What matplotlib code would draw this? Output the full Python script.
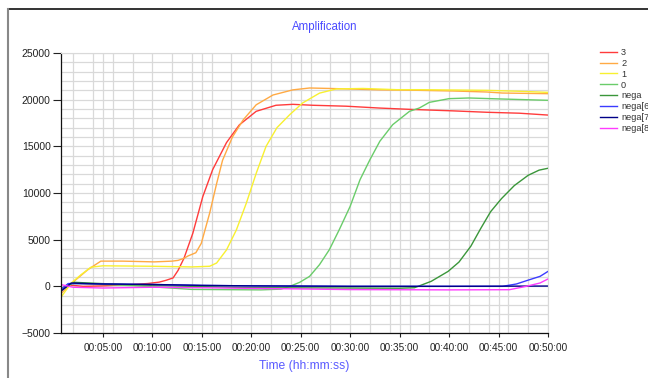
import matplotlib
matplotlib.use("Agg")
import matplotlib.pyplot as plt
from matplotlib.ticker import MultipleLocator, FuncFormatter
from matplotlib.lines import Line2D

plt.rcParams['font.family'] = ['Liberation Sans', 'DejaVu Sans']

# ---- data (time in minutes, fluorescence) ----
t_s3 = [0.8, 1.5, 3, 5, 8, 9.5, 10.7, 11.4, 12.1, 12.6, 13.2, 14.1, 15.1, 16.1, 17.5, 18.8,
        20.5, 22.5, 24.2, 26.2, 29.6, 33.0, 36.3, 40.4, 43.8, 47.1, 50]
y_s3 = [-250, 150, 0, 50, 200, 300, 450, 650, 900, 1700, 3000, 5700, 9600, 12500, 15400, 17300,
        18750, 19400, 19500, 19400, 19300, 19100, 18950, 18800, 18650, 18550, 18350]

t_s2 = [0.85, 2.1, 3.5, 4.8, 7, 10.2, 12.0, 12.6, 13.2, 13.6, 14.4, 14.95, 15.8, 16.5, 17.1,
        18.1, 19.2, 20.5, 22.2, 24.2, 25.9, 28, 33, 37, 40.4, 43.8, 45.4, 50]
y_s2 = [-700, 550, 1800, 2700, 2700, 2620, 2700, 2780, 3000, 3250, 3600, 4600, 7850, 11000, 13500,
        16000, 17850, 19450, 20500, 21050, 21250, 21200, 21050, 21000, 20930, 20820, 20710, 20640]

t_s1 = [0.85, 1.8, 2.8, 3.8, 5, 10, 14, 15.8, 16.5, 17.5, 18.5, 19.5, 20.5, 21.5, 22.6,
        23.9, 25.2, 26.9, 28.6, 31.3, 34.7, 37, 43.8, 47.1, 50]
y_s1 = [-1050, 350, 1250, 2050, 2200, 2150, 2080, 2150, 2500, 3900, 6050, 8900, 12100, 15000, 17000,
        18400, 19650, 20700, 21150, 21200, 21070, 21070, 21000, 20900, 20780]

t_s0 = [0.8, 1.5, 2.1, 5, 8, 10, 14, 18, 21, 23, 23.9, 24.9, 25.9, 26.9, 27.9, 28.9, 30, 31, 32,
        33, 34.3, 36, 37, 38, 40, 42, 45.4, 50]
y_s0 = [-300, 200, 300, 200, 80, -50, -330, -360, -380, -300, 0, 430, 1070, 2320, 3930, 6070,
        8570, 11430, 13570, 15540, 17320, 18750, 19110, 19710, 20110, 20180, 20070, 19930]

t_nega = [0.8, 2.1, 5, 10, 14, 20, 30, 35, 36.5, 38.2, 39.9, 41.0, 42.2, 43.2, 44.2, 45.3,
          46.6, 48, 49.1, 50]
y_nega = [-350, 430, 290, 100, 0, -150, -180, -200, -150, 540, 1600, 2600, 4300, 6200, 8000, 9400,
          10800, 11900, 12450, 12650]

t_n6 = [0.8, 1.5, 5, 10, 15, 20, 30, 40, 45.4, 46.8, 48.1, 49.2, 50]
y_n6 = [-300, 300, 250, 200, 100, 50, 0, 0, 0, 250, 700, 1070, 1600]

t_n7 = [0.8, 1.8, 5, 10, 15, 20, 30, 40, 50]
y_n7 = [-500, 350, 250, 200, 100, 50, 0, 0, 30]

t_n8 = [0.8, 2, 5, 10, 15, 20, 25, 30, 40, 46.1, 47.8, 49.2, 50]
y_n8 = [180, -100, -180, -100, -150, -220, -280, -350, -380, -360, 0, 360, 790]

labels = ["3", "2", "1", "0", "nega", "nega[6]", "nega[7]", "nega[8]"]
colors = ["#ff3b3b", "#ffaa44", "#f8f030", "#6acc6a", "#3a963a", "#3b3bff", "#000088", "#ff3bff"]
series = [(t_s3, y_s3), (t_s2, y_s2), (t_s1, y_s1), (t_s0, y_s0),
          (t_nega, y_nega), (t_n6, y_n6), (t_n7, y_n7), (t_n8, y_n8)]

# ---- figure ----
fig = plt.figure(figsize=(6.48, 3.78), dpi=100)
ax = fig.add_axes([61/648, 1-333/378, (548-61)/648, (333-53)/378])

for (t, y), c, lab in zip(series, colors, labels):
    ax.plot(t, y, color=c, lw=1.0, label=lab)

ax.set_xlim(0.77, 50)
ax.set_ylim(-5000, 25000)

ax.xaxis.set_major_locator(MultipleLocator(5))
ax.xaxis.set_minor_locator(MultipleLocator(2))
ax.yaxis.set_major_locator(MultipleLocator(5000))
ax.yaxis.set_minor_locator(MultipleLocator(1000))
ax.xaxis.set_major_formatter(FuncFormatter(lambda v, p: "00:%02d:00" % int(round(v))))

grid_c = "#d9d9d9"
ax.grid(True, which="both", color=grid_c, lw=0.9)
ax.set_axisbelow(True)

ax.tick_params(axis="x", which="major", length=3, width=0.8, direction="out",
               labelsize=7.2, pad=4, colors="#222222")
ax.tick_params(axis="y", which="major", length=6, width=0.8, direction="out",
               labelsize=7.5, pad=1.5, colors="#222222")
ax.tick_params(which="minor", length=0)

for s in ["top", "right"]:
    ax.spines[s].set_color(grid_c)
for s in ["left", "bottom"]:
    ax.spines[s].set_color("#111111")
    ax.spines[s].set_linewidth(0.9)

ax.set_xlabel("Time (hh:mm:ss)", color="#5a5aff", fontsize=8.7, labelpad=5)
fig.text(325/648, 1-27/378, "Amplification", color="#4a4aff", fontsize=8.3,
         ha="center", va="center")

fig.legend(loc="upper left", bbox_to_anchor=(600/648, 1-48/378), frameon=False,
           fontsize=6.6, handlelength=1.85, handletextpad=0.45, labelspacing=0.2,
           borderaxespad=0, borderpad=0, labelcolor="#333333")

# outer frame lines
fig.add_artist(Line2D([8/648, 1], [1-9/378, 1-9/378], transform=fig.transFigure,
                      color="#111111", lw=1.2))
fig.add_artist(Line2D([8/648, 8/648], [0, 1-9/378], transform=fig.transFigure,
                      color="#888888", lw=1.5))

fig.savefig("out.png", dpi=100)
